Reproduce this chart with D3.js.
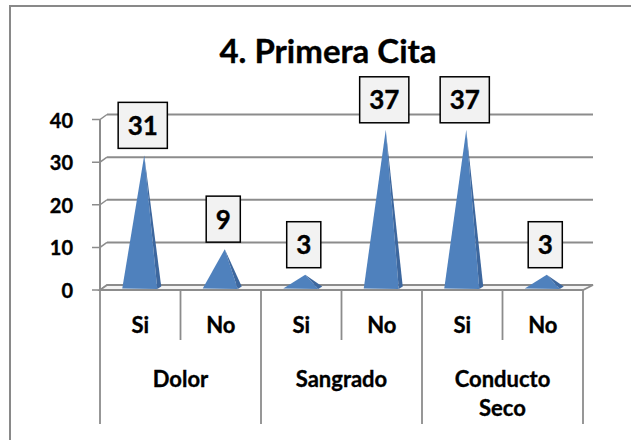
<!DOCTYPE html>
<html><head><meta charset="utf-8">
<script src="https://cdn.jsdelivr.net/npm/d3@7"></script>
<style>
html,body{margin:0;padding:0;background:#fff;}
svg text{font-family:Lato,"Open Sans",sans-serif;font-weight:bold;fill:#000;stroke:#000;stroke-width:0.35px;}
</style></head>
<body>
<svg id="chart" width="631" height="440"></svg>
<script>
const title = "4. Primera Cita";
const groups = ["Dolor", "Sangrado", "Conducto Seco"];
const subLabels = ["Si", "No", "Si", "No", "Si", "No"];
const values = [31, 9, 3, 37, 37, 3];
const yTicks = [0, 10, 20, 30, 40];

const svg = d3.select("#chart");
const grid = "#8c8c8c";
const DX = 7, DY = -5;

svg.append("rect").attr("x", 10).attr("y", 6).attr("width", 660).attr("height", 470)
  .attr("fill", "#fff").attr("stroke", "#898989").attr("stroke-width", 2);

const x = d3.scaleBand().domain(d3.range(values.length)).range([100, 583]).padding(0);
const bw = x.bandwidth();
const y = d3.scaleLinear().domain([0, 40]).range([290, 119.5]);

// back wall gridlines
const gl = svg.append("g");
yTicks.forEach(t => {
  if (t > 0) {
    gl.append("line").attr("x1", 100 + DX).attr("x2", 583 + DX + 3)
      .attr("y1", y(t) + DY).attr("y2", y(t) + DY)
      .attr("stroke", grid).attr("stroke-width", 2);
  }
  gl.append("path").attr("d", `M92,${y(t)} L100,${y(t)} L${100 + DX},${y(t) + DY}`)
    .attr("fill", "none").attr("stroke", grid).attr("stroke-width", 1.5);
});
// left axis
gl.append("line").attr("x1", 100).attr("x2", 100).attr("y1", y(40)).attr("y2", y(0))
  .attr("stroke", grid).attr("stroke-width", 2);
// floor
gl.append("path")
  .attr("d", `M100,${y(0)} L583,${y(0)} L${583 + DX + 3},${y(0) + DY} L${100 + DX},${y(0) + DY} Z`)
  .attr("fill", "#f4f4f4").attr("stroke", grid).attr("stroke-width", 1.8);

// y labels
svg.append("g").selectAll("text").data(yTicks).join("text")
  .attr("x", 73).attr("y", d => y(d) + 8).attr("text-anchor", "end")
  .attr("font-size", 20).text(d => d);

// dividers under axis
const bounds = d3.range(values.length + 1);
svg.append("g").selectAll("line").data(bounds).join("line")
  .attr("x1", i => i < values.length ? x(i) : x(values.length - 1) + bw)
  .attr("x2", i => i < values.length ? x(i) : x(values.length - 1) + bw)
  .attr("y1", y(0)).attr("y2", i => i % 2 === 0 ? 424 : 340)
  .attr("stroke", grid).attr("stroke-width", 1.8);

// sub labels
svg.append("g").selectAll("text").data(subLabels).join("text")
  .attr("x", (d, i) => x(i) + bw / 2).attr("y", 333).attr("text-anchor", "middle")
  .attr("font-size", 22).text(d => d);

// group labels
groups.forEach((g, gi) => {
  const cx = x(gi * 2) + bw;
  const words = g.split(" ");
  words.forEach((w, wi) => {
    svg.append("text").attr("x", cx).attr("y", 387 + wi * 29).attr("text-anchor", "middle")
      .attr("font-size", 22).text(w);
  });
});

// pyramids
const pg = svg.append("g");
values.forEach((v, i) => {
  const cx = x(i) + bw / 2;
  const y0 = y(0);
  const ax = cx + 4, ay = y(v) - 2.5;
  const lx = cx - 18, rx = cx + 17, bx = cx + 21;
  pg.append("path").attr("d", `M${lx},${y0 - 1.5} L${ax},${ay} L${rx},${y0 - 1} Z`)
    .attr("fill", "#4f81bd");
  pg.append("path").attr("d", `M${rx},${y0 - 1} L${ax},${ay} L${bx},${y0 - 3.5} Z`)
    .attr("fill", "#3d679e");
});

// data labels
const lg = svg.append("g");
values.forEach((v, i) => {
  const cx = x(i) + bw / 2 + 2.5;
  const ay = y(v) - 2.5;
  const t = lg.append("text").attr("font-size", 26).attr("text-anchor", "middle").text(v);
  const tw = t.node().getComputedTextLength();
  const w = tw + 19, h = 46;
  const bottom = ay - 7;
  lg.insert("rect", "text").attr("x", cx - w / 2).attr("y", bottom - h).attr("width", w).attr("height", h)
    .attr("fill", "#f2f2f2").attr("stroke", "#000").attr("stroke-width", 1.5);
  t.attr("x", cx).attr("y", bottom - h / 2 + 9.5);
});

// title
svg.append("text").attr("x", 328).attr("y", 63).attr("text-anchor", "middle")
  .attr("font-size", 33).text(title);
</script>
</body></html>
